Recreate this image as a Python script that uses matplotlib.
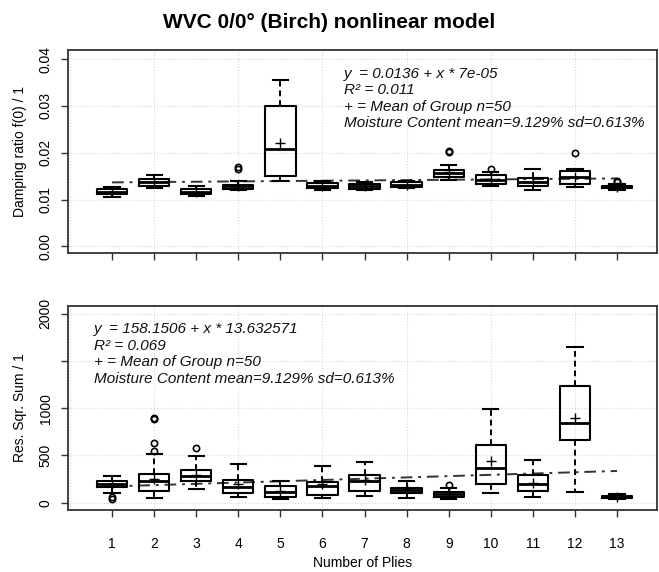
import matplotlib.pyplot as plt

plt.rcParams['font.family'] = ['Liberation Sans', 'DejaVu Sans']

plies = list(range(1, 14))

# damping ratio f(0), box statistics per group
d_q1 = [0.0111, 0.0130, 0.0112, 0.0123, 0.0151, 0.0124, 0.0123, 0.0127, 0.0148, 0.0134, 0.0128, 0.0134, 0.0124]
d_med = [0.0116, 0.0137, 0.0117, 0.0128, 0.0209, 0.0130, 0.0128, 0.0132, 0.0157, 0.0142, 0.0137, 0.0148, 0.0126]
d_q3 = [0.0123, 0.0144, 0.0122, 0.0132, 0.0299, 0.0135, 0.0134, 0.0137, 0.0164, 0.0153, 0.0146, 0.0162, 0.0129]
d_lo = [0.0106, 0.0124, 0.0107, 0.0120, 0.0139, 0.0121, 0.0120, 0.0125, 0.0141, 0.0130, 0.0121, 0.0127, 0.0121]
d_hi = [0.0126, 0.0153, 0.0128, 0.0139, 0.0356, 0.0140, 0.0137, 0.0139, 0.0174, 0.0158, 0.0166, 0.0165, 0.0133]
d_mean = [0.0116, 0.0137, 0.0117, 0.0129, 0.0221, 0.0130, 0.0128, 0.0132, 0.0158, 0.0143, 0.0138, 0.0149, 0.0127]
d_out = [[], [], [], [0.0166, 0.0170], [], [], [], [], [0.0201, 0.0203], [0.0166], [], [0.0199], [0.0137, 0.0140]]

# residual square sum
r_q1 = [170, 125, 224, 99, 64, 82, 128, 107, 64, 195, 128, 661, 46]
r_med = [202, 230, 277, 163, 117, 181, 231, 135, 89, 366, 199, 838, 60]
r_q3 = [231, 302, 349, 235, 171, 217, 295, 160, 117, 615, 295, 1236, 75]
r_lo = [99, 53, 142, 64, 39, 46, 75, 53, 39, 99, 64, 117, 39]
r_hi = [277, 520, 490, 413, 224, 384, 426, 224, 153, 988, 455, 1645, 96]
r_mean = [200, 250, 290, 195, 125, 200, 240, 140, 95, 437, 210, 900, 62]
r_out = [[35, 60], [545, 635, 880, 900], [579], [], [], [], [], [], [188], [], [], [], []]

d_fit = (0.0136, 7e-05)
r_fit = (158.1506, 13.632571)

d_text = ("y  = 0.0136 + x * 7e-05\nR² = 0.011\n+ = Mean of Group n=50\n"
          "Moisture Content mean=9.129% sd=0.613%")
r_text = ("y  = 158.1506 + x * 13.632571\nR² = 0.069\n+ = Mean of Group n=50\n"
          "Moisture Content mean=9.129% sd=0.613%")


def stats(q1, med, q3, lo, hi, mean, out):
    return [dict(q1=a, med=b, q3=c, whislo=d, whishi=e, mean=f, fliers=g)
            for a, b, c, d, e, f, g in zip(q1, med, q3, lo, hi, mean, out)]


fig = plt.figure(figsize=(6.59, 5.72), dpi=100)
ax1 = fig.add_axes([0.103, 0.557, 0.894, 0.356])
ax2 = fig.add_axes([0.103, 0.108, 0.894, 0.357])

panels = [
    (ax1, stats(d_q1, d_med, d_q3, d_lo, d_hi, d_mean, d_out), d_fit, d_text,
     (-0.0015, 0.042), [0.0, 0.01, 0.02, 0.03, 0.04], ["0.00", "0.01", "0.02", "0.03", "0.04"],
     "Damping ratio f(0) / 1", (0.468, 0.915)),
    (ax2, stats(r_q1, r_med, r_q3, r_lo, r_hi, r_mean, r_out), r_fit, r_text,
     (-80, 2080), [0, 500, 1000, 1500, 2000], ["0", "500", "1000", "", "2000"],
     "Res. Sqr. Sum / 1", (0.044, 0.92)),
]

for ax, st, fit, txt, ylim, yt, ytl, ylab, tpos in panels:
    ax.set_axisbelow(True)
    for g in range(0, 15, 2):
        ax.axvline(g, color='#d8d8d8', lw=0.8, ls=':', zorder=0)
    for v in yt:
        ax.axhline(v, color='#d8d8d8', lw=0.8, ls=':', zorder=0)
    ax.bxp(st, positions=plies, widths=0.72, capwidths=0.36, showmeans=True,
           boxprops=dict(color='black', lw=1.5),
           medianprops=dict(color='black', lw=2),
           whiskerprops=dict(color='black', lw=1.4, ls=(0, (3, 2))),
           capprops=dict(color='black', lw=1.5),
           flierprops=dict(marker='o', mfc='none', mec='black', ms=4.5, mew=1.2),
           meanprops=dict(marker='+', mec='black', ms=7, mew=1))
    xs = [plies[0], plies[-1]]
    ax.plot(xs, [fit[0] + fit[1] * x for x in xs], color='#333333', lw=1.4,
            ls=(0, (6, 3, 1.5, 3)), zorder=1)
    ax.text(tpos[0], tpos[1], txt, transform=ax.transAxes, ha='left', va='top',
            fontsize=11, style='italic', linespacing=1.22, color='#111111')
    ax.set_xlim(-0.05, 13.95)
    ax.set_ylim(*ylim)
    ax.set_yticks(yt)
    ax.set_yticklabels(ytl, rotation=90, va='center', fontsize=10)
    ax.set_ylabel(ylab, fontsize=10, labelpad=8)
    ax.set_xticks(plies)
    for s in ax.spines.values():
        s.set_color('#333333')
        s.set_linewidth(1.3)
    ax.tick_params(length=5, width=1, color='#333333', pad=6)

ax1.set_xticklabels([])
ax2.set_xticklabels([str(p) for p in plies], fontsize=10)
ax2.tick_params(axis='x', pad=14)
ax2.set_xlabel("Number of Plies", fontsize=10, labelpad=4)

fig.suptitle("WVC 0/0° (Birch) nonlinear model", fontsize=15, fontweight='bold', y=0.978)

fig.savefig("out.png", dpi=100)
